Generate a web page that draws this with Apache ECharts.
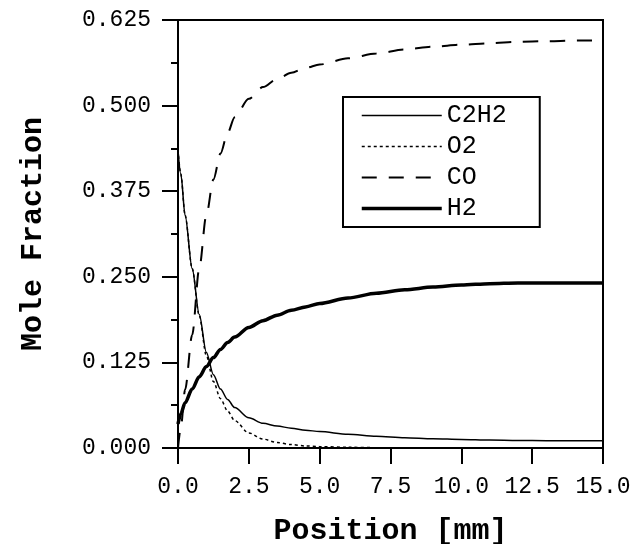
<!DOCTYPE html>
<html>
<head>
    <meta charset="utf-8">
    <script src="https://cdn.jsdelivr.net/npm/echarts@6/dist/echarts.min.js"></script>
    <style>
        html, body {
            margin: 0px;
            background: #fff;
        }
        #chart {
            width: 634px;
            height: 544px;
        }
    </style>
</head>
<body>
    <div id="chart"></div>
    <script>
        // position along the burner axis [mm]
        var positions = [0, 0.1, 0.25, 0.5, 0.75, 1.0, 1.25, 1.5, 1.75, 2.0, 2.5, 3.0, 3.5, 4.0, 4.5, 5.0,
            6.0, 7.0, 8.0, 9.0, 10, 11, 12, 13, 14, 15];
        var c2h2 = [0.435, 0.400, 0.340, 0.262, 0.195, 0.140, 0.107, 0.086, 0.071, 0.059, 0.044, 0.036, 0.032, 0.029, 0.026, 0.024,
            0.020, 0.017, 0.015, 0.0135, 0.0125, 0.0115, 0.011, 0.0107, 0.0107, 0.0107];
        var o2 = [0.435, 0.400, 0.340, 0.262, 0.193, 0.135, 0.097, 0.072, 0.054, 0.040, 0.022, 0.013, 0.008, 0.005, 0.003, 0.002,
            0.001, 0.0005, 0, 0, 0, 0, 0, 0, 0, 0];
        var co = [0, 0.030, 0.085, 0.165, 0.262, 0.340, 0.392, 0.430, 0.460, 0.483, 0.510, 0.527, 0.539, 0.548, 0.555, 0.560,
            0.569, 0.576, 0.582, 0.586, 0.589, 0.591, 0.593, 0.594, 0.595, 0.595];
        var h2 = [0.035, 0.050, 0.066, 0.086, 0.104, 0.119, 0.132, 0.144, 0.154, 0.162, 0.176, 0.186, 0.194, 0.201, 0.206, 0.211,
            0.219, 0.226, 0.231, 0.235, 0.238, 0.240, 0.241, 0.241, 0.241, 0.241];
        var names = ['C2H2', 'O2', 'CO', 'H2'];

        var font = "'Courier New', 'Liberation Mono', monospace";
        var widths = { C2H2: 1.5, O2: 1.5, CO: 2, H2: 3.5 };
        var dashes = { C2H2: 'solid', O2: [3, 3], CO: [15, 12], H2: 'solid' };

        function pairs(vals) {
            return positions.map(function (x, i) { return [x, vals[i]]; });
        }

        function line(name, vals) {
            return {
                name: name,
                type: 'line',
                data: pairs(vals),
                showSymbol: false,
                symbol: 'none',
                smooth: 0.3,
                smoothMonotone: 'x',
                lineStyle: { color: '#000', width: widths[name], type: dashes[name] },
                itemStyle: { color: '#000' }
            };
        }

        var myChart = echarts.init(document.getElementById('chart'));
        var option = {
            backgroundColor: '#fff',
            animation: false,
            grid: {
                left: 178, right: 31, top: 20, bottom: 96,
                containLabel: false,
                outerBoundsMode: 'none',
                show: true, borderColor: '#000', borderWidth: 2
            },
            legend: {
                orient: 'vertical',
                left: 343, top: 97,
                data: names.map(function (n) {
                    return { name: n, lineStyle: { width: widths[n], type: dashes[n], color: '#000' } };
                }),
                itemWidth: 80, itemHeight: 14, itemGap: 6,
                padding: [6, 33, 6, 17],
                borderColor: '#000', borderWidth: 2,
                backgroundColor: '#fff',
                itemStyle: { opacity: 0 },
                textStyle: { fontFamily: font, fontSize: 25, color: '#000' }
            },
            xAxis: {
                type: 'value', min: 0, max: 15, interval: 2.5,
                name: 'Position [mm]', nameLocation: 'middle', nameGap: 68,
                nameTextStyle: { fontFamily: font, fontSize: 30, fontWeight: 'bold', color: '#000' },
                axisLine: { show: true, lineStyle: { color: '#000', width: 2 } },
                axisTick: { show: true, inside: false, length: 16, lineStyle: { color: '#000', width: 2 } },
                axisLabel: {
                    margin: 27, fontFamily: font, fontSize: 23, color: '#000',
                    formatter: function (v) { return v.toFixed(1); }
                },
                splitLine: { show: false }
            },
            yAxis: {
                type: 'value', min: 0, max: 0.625, interval: 0.125,
                name: 'Mole Fraction', nameLocation: 'middle', nameGap: 130,
                nameTextStyle: { fontFamily: font, fontSize: 30, fontWeight: 'bold', color: '#000' },
                axisLine: { show: true, lineStyle: { color: '#000', width: 2 } },
                axisTick: { show: true, inside: false, length: 16, lineStyle: { color: '#000', width: 2 } },
                minorTick: { show: true, splitNumber: 2, length: 7, lineStyle: { color: '#000', width: 2 } },
                axisLabel: {
                    margin: 27, fontFamily: font, fontSize: 23, color: '#000',
                    formatter: function (v) { return v.toFixed(3); }
                },
                splitLine: { show: false }
            },
            series: names.map(function (n, i) {
                return line(n, [c2h2, o2, co, h2][i]);
            })
        };
        option && myChart.setOption(option);
    </script>
</body>
</html>
